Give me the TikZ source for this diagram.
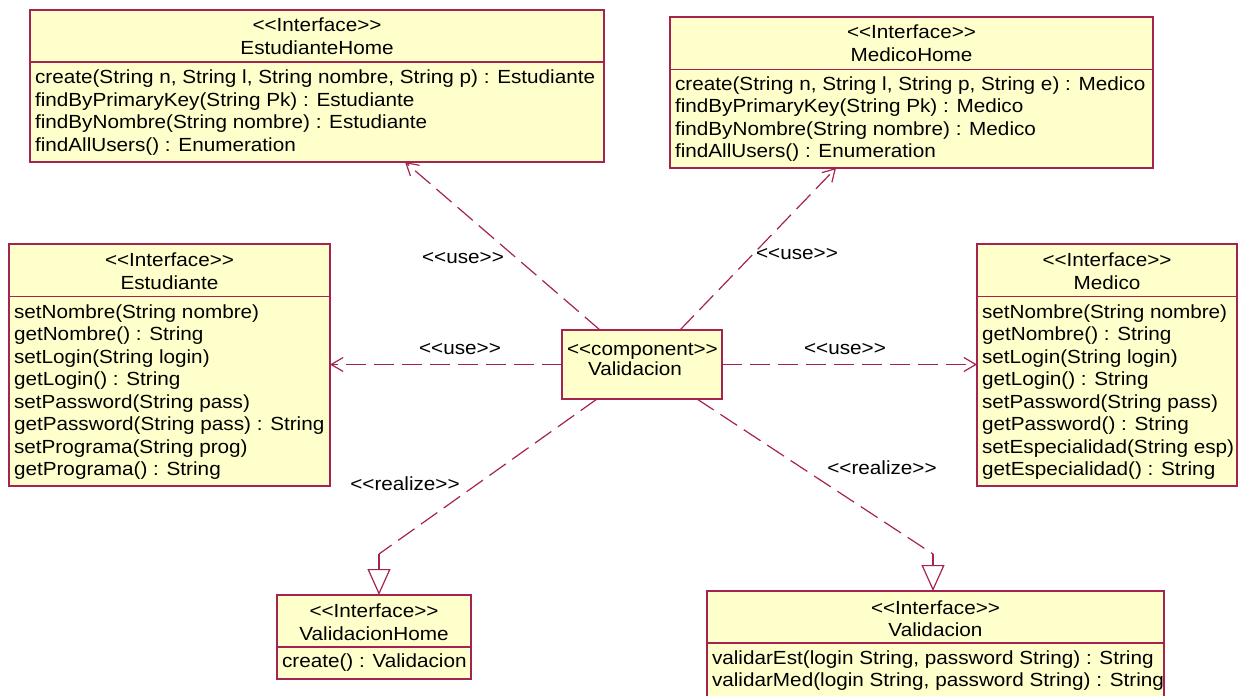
\documentclass[tikz,border=0pt]{standalone}
\usepackage{fontspec}
\setmainfont{Liberation Sans}[Ligatures=TeXOff, FakeStretch=1.09]
\usetikzlibrary{arrows.meta,calc}
\definecolor{umlline}{RGB}{165,35,80}
\definecolor{umlfill}{RGB}{255,255,204}

\begin{document}
\begin{tikzpicture}[x=1pt,y=-1pt,
  every node/.style={font=\fontsize{19}{22.5}\selectfont, text=black, inner sep=0pt, outer sep=0pt},
  classbox/.style={draw=umlline, fill=umlfill, line width=1.3pt, rectangle, anchor=north west},
  divider/.style={draw=umlline, line width=1.3pt},
  txt/.style={anchor=base west},
  ctxt/.style={anchor=base},
  dep/.style={draw=umlline, line width=1.2pt, dash pattern=on 20pt off 8pt},
  usearrow/.style={dep, -{Straight Barb[length=12pt,width=14pt,line width=1.2pt]}},
  realarrow/.style={draw=umlline, line width=1.2pt, -{Triangle[open, length=26pt, width=23pt, line width=1.2pt]}},
  lbl/.style={anchor=center}
]
\fill[white] (0,0) rectangle (1240,696);
\useasboundingbox (0,0) rectangle (1240,696);

% ---------- EstudianteHome ----------
\node[classbox, minimum width=574, minimum height=152] (eh) at (30,10) {};
\draw[divider] (eh.west |- 0,62) -- (eh.east |- 0,62);
\node[ctxt] (ehs) at (317,31) {<<Interface>>};
\node[ctxt] (ehn) at (317,54) {EstudianteHome};
\node[txt] (eh1) at (35,83.5) {create(String n, String l, String nombre, String p) : Estudiante};
\node[txt] (eh2) at (35,106) {findByPrimaryKey(String Pk) : Estudiante};
\node[txt] (eh3) at (35,128.5) {findByNombre(String nombre) : Estudiante};
\node[txt] (eh4) at (35,151) {findAllUsers() : Enumeration};

% ---------- MedicoHome ----------
\node[classbox, minimum width=483, minimum height=151] (mh) at (670,17) {};
\draw[divider] (mh.west |- 0,69.5) -- (mh.east |- 0,69.5);
\node[ctxt] (mhs) at (911.5,38.5) {<<Interface>>};
\node[ctxt] (mhn) at (911.5,61.5) {MedicoHome};
\node[txt] (mh1) at (675,90) {create(String n, String l, String p, String e) : Medico};
\node[txt] (mh2) at (675,112.5) {findByPrimaryKey(String Pk) : Medico};
\node[txt] (mh3) at (675,135) {findByNombre(String nombre) : Medico};
\node[txt] (mh4) at (675,157.5) {findAllUsers() : Enumeration};

% ---------- Estudiante ----------
\node[classbox, minimum width=321, minimum height=242] (est) at (9,244) {};
\draw[divider] (est.west |- 0,296.5) -- (est.east |- 0,296.5);
\node[ctxt] (ests) at (169.5,266.5) {<<Interface>>};
\node[ctxt] (estn) at (169.5,289.5) {Estudiante};
\foreach \t [count=\i from 0] in {{setNombre(String nombre)},{getNombre() : String},{setLogin(String login)},{getLogin() : String},{setPassword(String pass)},{getPassword(String pass) : String},{setPrograma(String prog)},{getPrograma() : String}}
  \node[txt] (est\i) at (14,318+22.5*\i) {\t};

% ---------- Medico ----------
\node[classbox, minimum width=260, minimum height=242] (med) at (977,244) {};
\draw[divider] (med.west |- 0,296.5) -- (med.east |- 0,296.5);
\node[ctxt] (meds) at (1107,266.5) {<<Interface>>};
\node[ctxt] (medn) at (1107,289.5) {Medico};
\foreach \t [count=\i from 0] in {{setNombre(String nombre)},{getNombre() : String},{setLogin(String login)},{getLogin() : String},{setPassword(String pass)},{getPassword() : String},{setEspecialidad(String esp)},{getEspecialidad() : String}}
  \node[txt] (med\i) at (982,318+22.5*\i) {\t};

% ---------- component ----------
\node[classbox, minimum width=160, minimum height=69] (comp) at (562,330) {};
\node[txt] (comps) at (567,355) {<<component>>};
\node[txt] (compn) at (588,375.5) {Validacion};

% ---------- ValidacionHome ----------
\node[classbox, minimum width=194, minimum height=84] (vh) at (277,595) {};
\draw[divider] (vh.west |- 0,647) -- (vh.east |- 0,647);
\node[ctxt] (vhs) at (374,617) {<<Interface>>};
\node[ctxt] (vhn) at (374,640) {ValidacionHome};
\node[txt] (vh1) at (282,667) {create() : Validacion};

% ---------- Validacion ----------
\node[classbox, minimum width=457, minimum height=115] (vi) at (707,591) {};
\draw[divider] (vi.west |- 0,643) -- (vi.east |- 0,643);
\node[ctxt] (vis) at (935.5,614) {<<Interface>>};
\node[ctxt] (vin) at (935.5,636.5) {Validacion};
\node[txt] (vi1) at (712,664) {validarEst(login String, password String) : String};
\node[txt] (vi2) at (712,686) {validarMed(login String, password String) : String};

% ---------- dependencies ----------
\draw[usearrow] ([xshift=38pt]comp.north west) -- ([xshift=375pt]eh.south west);
\draw[usearrow] ([xshift=118pt]comp.north west) -- ([xshift=166pt]mh.south west);
\draw[usearrow] (comp.west) -- (comp.west -| est.east);
\draw[usearrow] (comp.east) -- (comp.east -| med.west);

% realizations: dashed run, then a short solid drop into the hollow triangle
\coordinate (b1) at (379,554);
\coordinate (b2) at (933,554);
\draw[dep] ([xshift=35pt]comp.south west) -- (b1);
\draw[realarrow] (b1) -- (b1 |- vh.north);
\draw[dep] ([xshift=135pt]comp.south west) -- (b2);
\draw[realarrow] (b2) -- (b2 |- vi.north);

% ---------- labels ----------
\node[lbl] (l1) at (463,258) {<<use>>};
\node[lbl] (l2) at (797,254) {<<use>>};
\node[lbl] (l3) at (460,349) {<<use>>};
\node[lbl] (l4) at (845,349) {<<use>>};
\node[lbl] (l5) at (405,484) {<<realize>>};
\node[lbl] (l6) at (882,468) {<<realize>>};
\end{tikzpicture}
\end{document}
